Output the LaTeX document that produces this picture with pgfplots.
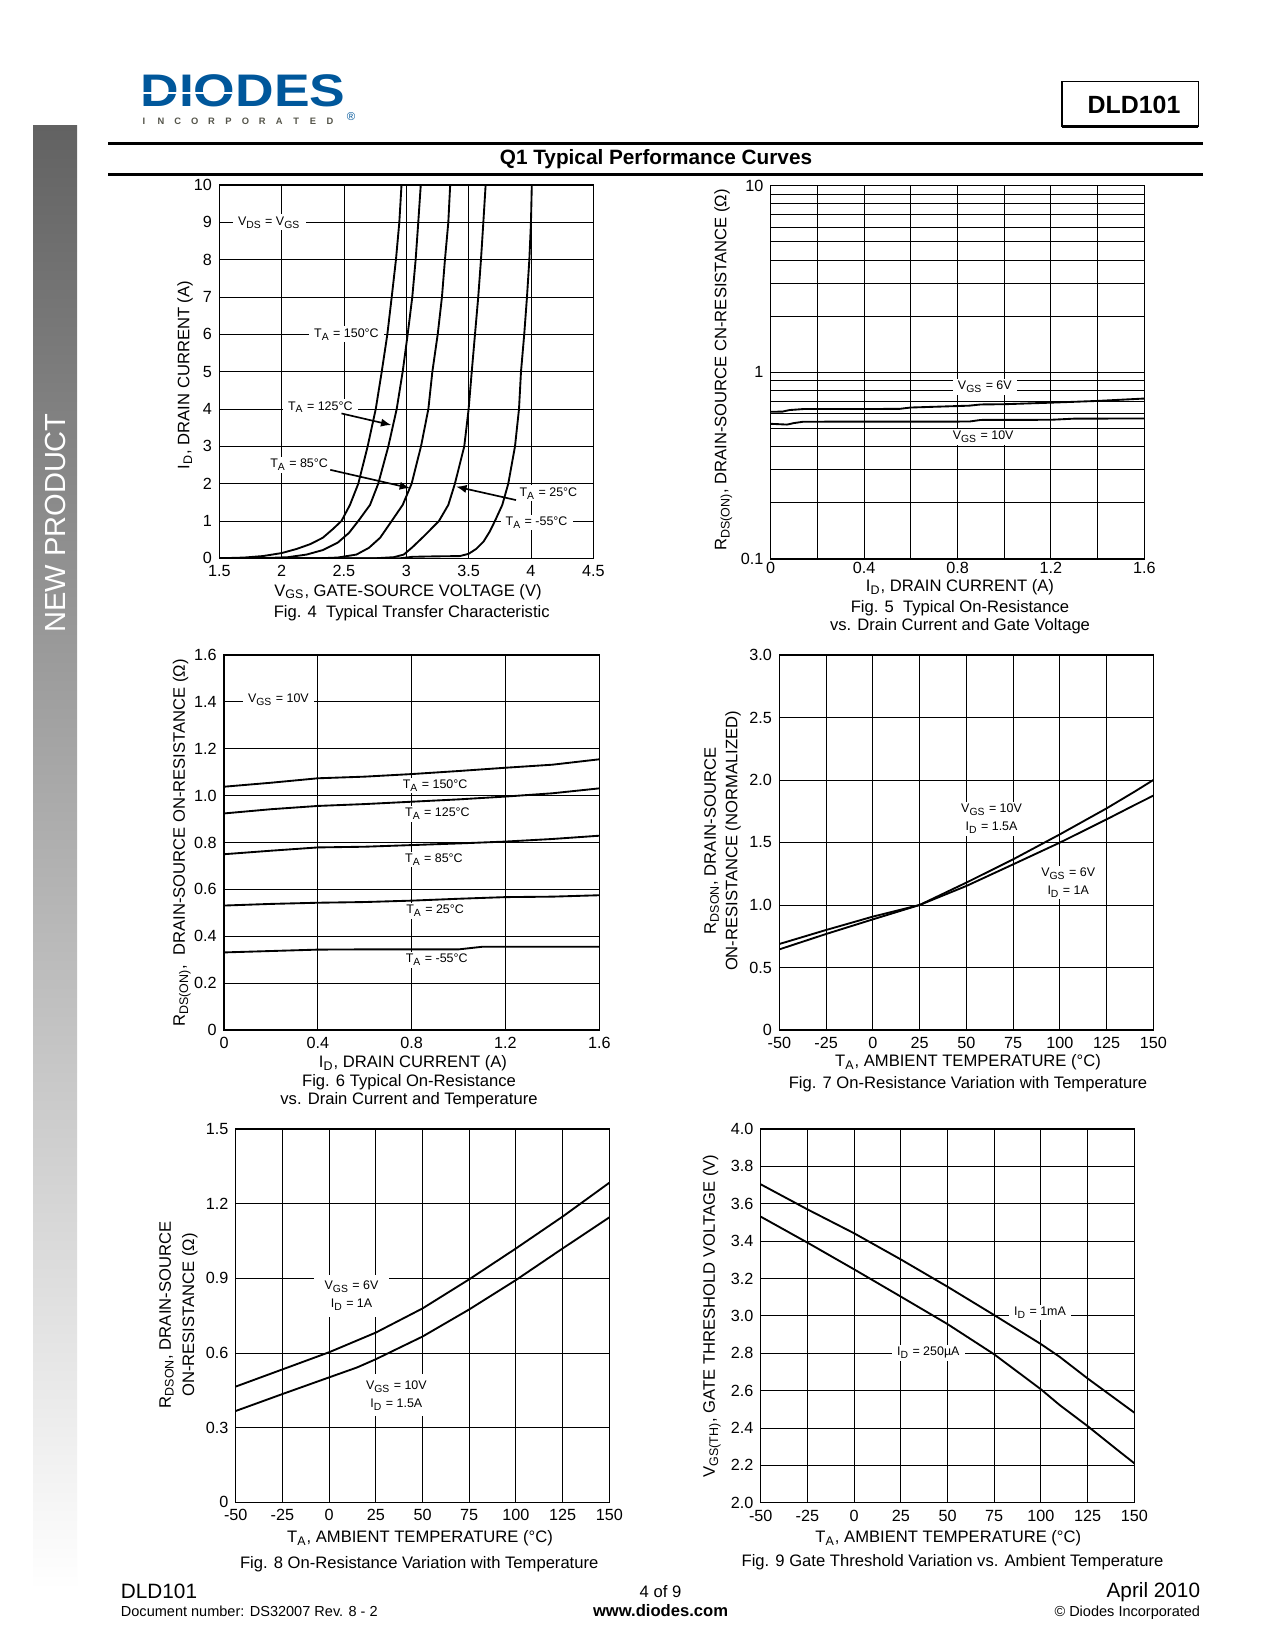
\documentclass[border=0pt]{standalone}
\usepackage{fontspec}
\setmainfont{Liberation Sans}
\usepackage{pgfplots}
\pgfplotsset{compat=1.18}
\usetikzlibrary{arrows.meta}

% one pixel of the 1275x1650 page
\newlength\pxl
\setlength\pxl{0.4818pt}

\definecolor{diodesblue}{RGB}{0,87,155}
\definecolor{logogray}{RGB}{85,85,75}
\definecolor{bargray}{RGB}{98,98,98}
\definecolor{barmid}{RGB}{196,196,196}

\newcommand\axl{\fontsize{8}{9.6}\selectfont}
\newcommand\tkl{\fontsize{7.8}{9}\selectfont}
\newcommand\ann{\fontsize{6}{8.8}\selectfont}

\pgfplotsset{
  dsaxis/.style={
    scale only axis, anchor=north west,
    axis line style={line width=0.6pt},
    grid=major,
    major grid style={black, line width=0.45pt},
    minor grid style={black, line width=0.45pt},
    major tick length=0pt, minor tick length=0pt,
    tick label style={font=\tkl},
    cycle list={black,line width=0.9pt,no markers,line join=round\\},
  },
}
\tikzset{
  lab/.style={font=\ann, fill=white, inner xsep=2.5pt, inner ysep=1pt, align=center},
}

\begin{document}
\begin{tikzpicture}

\begin{scope}[x=\pxl,y=-\pxl]
  \fill[white] (0,0) rectangle (1275,1650);

  % side bar
  \shade[top color=bargray, middle color=barmid, bottom color=white] (33,126) rectangle (77,1590);
  \node[rotate=90, text=white, font=\fontsize{14}{16}\selectfont] at (55,523) {NEW PRODUCT};

  % logo
  \node[anchor=base west, inner sep=0, text=diodesblue, xscale=1.17,
        font=\fontsize{22}{22}\bfseries] at (140,106.7) {DIODES};
  \draw[white, line width=1.2pt] (140,93) -- (232,93);
  \foreach \l [count=\i from 0] in {I,N,C,O,R,P,O,R,A,T,E,D}
    \node[anchor=base, inner sep=0, text=logogray, font=\fontsize{4.5}{5}\bfseries] at ({144+16.9*\i},125) {\l};
  \node[inner sep=0, text=diodesblue, font=\fontsize{5.5}{6}\selectfont] at (351,117) {®};

  % part box
  \draw[line width=0.5pt] (1062,81.7) rectangle (1198,126.7);
  \draw[line width=1.6pt] (1062,126.7) -- (1198,126.7);
  \node[font=\fontsize{12}{14}\bfseries] at (1134,104.5) {DLD101};

  % header rules and title
  \draw[line width=1.3pt] (108,143.3) -- (1203,143.3);
  \draw[line width=1.3pt] (108,174.3) -- (1203,174.3);
  \node[anchor=base, font=\fontsize{10}{12}\bfseries] at (656,165) {Q1 Typical Performance Curves};

  % Fig 4 texts
  \node[rotate=90, font=\axl] at (185,375) {I\textsubscript{D}, DRAIN CURRENT (A)};
  \node[anchor=base, font=\axl] at (408,596) {V\textsubscript{GS}, GATE-SOURCE VOLTAGE (V)};
  \node[anchor=base, font=\axl] at (411.7,617.3) {Fig. 4~\ Typical Transfer Characteristic};

  % Fig 5 texts
  \node[rotate=90, font=\axl] at (723.3,370) {R\textsubscript{DS(ON)}, DRAIN-SOURCE CN-RESISTANCE (Ω)};
  \node[anchor=base, font=\axl] at (960,591.5) {I\textsubscript{D}, DRAIN CURRENT (A)};
  \node[anchor=base, font=\axl] at (960,612) {Fig. 5~\ Typical On-Resistance};
  \node[anchor=base, font=\axl] at (960,630) {vs. Drain Current and Gate Voltage};

  % Fig 6 texts
  \node[rotate=90, font=\axl] at (181.7,843) {R\textsubscript{DS(ON)},\ \ DRAIN-SOURCE ON-RESISTANCE (Ω)};
  \node[anchor=base, font=\axl] at (413,1067.3) {I\textsubscript{D}, DRAIN CURRENT (A)};
  \node[anchor=base, font=\axl] at (409,1086.7) {Fig. 6 Typical On-Resistance};
  \node[anchor=base, font=\axl] at (409,1104) {vs. Drain Current and Temperature};

  % Fig 7 texts
  \node[rotate=90, align=center, font=\fontsize{8}{10.4}\selectfont] at (722.5,841)
    {R\textsubscript{DSON}, DRAIN-SOURCE\\ON-RESISTANCE (NORMALIZED)};
  \node[anchor=base, font=\axl] at (968,1066.7) {T\textsubscript{A}, AMBIENT TEMPERATURE (°C)};
  \node[anchor=base, font=\axl] at (968,1088.3) {Fig. 7 On-Resistance Variation with Temperature};

  % Fig 8 texts
  \node[rotate=90, align=center, font=\fontsize{8}{11.2}\selectfont] at (178.3,1315)
    {R\textsubscript{DSON}, DRAIN-SOURCE\\ON-RESISTANCE (Ω)};
  \node[anchor=base, font=\axl] at (420,1542.7) {T\textsubscript{A}, AMBIENT TEMPERATURE (°C)};
  \node[anchor=base, font=\axl] at (419.2,1568.3) {Fig. 8 On-Resistance Variation with Temperature};

  % Fig 9 texts
  \node[rotate=90, font=\axl] at (711.7,1316) {V\textsubscript{GS(TH)}, GATE THRESHOLD VOLTAGE (V)};
  \node[anchor=base, font=\axl] at (948.3,1542.7) {T\textsubscript{A}, AMBIENT TEMPERATURE (°C)};
  \node[anchor=base, font=\axl] at (952.5,1566.7) {Fig. 9 Gate Threshold Variation vs. Ambient Temperature};

  % footer
  \node[anchor=base west, inner sep=0, font=\fontsize{10}{12}\selectfont] at (120.5,1598) {DLD101};
  \node[anchor=base west, inner sep=0, font=\fontsize{7}{8}\selectfont] at (120.5,1616) {Document number: DS32007 Rev. 8 - 2};
  \node[anchor=base, inner sep=0, font=\fontsize{8}{9}\selectfont] at (660.5,1597) {4 of 9};
  \node[anchor=base, inner sep=0, font=\fontsize{8}{9}\bfseries] at (660.5,1616.7) {www.diodes.com};
  \node[anchor=base east, inner sep=0, font=\fontsize{10}{12}\selectfont] at (1200.5,1597) {April 2010};
  \node[anchor=base east, inner sep=0, font=\fontsize{7}{8}\selectfont] at (1200.5,1616) {© Diodes Incorporated};
\end{scope}

% ---------------- Fig 4 ----------------
\begin{axis}[dsaxis, at={(219.3\pxl,-185\pxl)}, width=374\pxl, height=373.3\pxl,
  xmin=1.5, xmax=4.5, ymin=0, ymax=10,
  xtick={1.5,2,2.5,3,3.5,4,4.5}, xticklabels={1.5,2,2.5,3,3.5,4,4.5},
  ytick={0,1,2,3,4,5,6,7,8,9,10}, yticklabels={0,1,2,3,4,5,6,7,8,9,10}]
\addplot coordinates {(1.5,0) (1.7,0.02) (1.85,0.06) (2.0,0.14) (2.12,0.25) (2.23,0.38) (2.33,0.55) (2.41,0.78) (2.48,1.0) (2.548,1.43) (2.615,2) (2.69,3) (2.755,4) (2.803,5) (2.848,6) (2.883,7) (2.917,8) (2.944,9) (2.965,10.2)};
\addplot coordinates {(1.5,0) (1.9,0.01) (2.05,0.03) (2.2,0.1) (2.33,0.22) (2.45,0.42) (2.54,0.68) (2.615,1.0) (2.709,1.43) (2.775,2) (2.856,3) (2.923,4) (2.971,5) (3.011,6) (3.048,7) (3.075,8) (3.096,9) (3.12,10.2)};
\addplot coordinates {(1.5,0) (2.3,0) (2.45,0.02) (2.6,0.1) (2.7,0.28) (2.79,0.55) (2.883,1.0) (2.971,1.43) (3.043,2) (3.118,3) (3.177,4) (3.209,5) (3.252,6) (3.286,7) (3.31,8) (3.337,9) (3.355,10.2)};
\addplot coordinates {(1.5,0) (2.75,0) (2.9,0.03) (2.98,0.1) (3.05,0.3) (3.15,0.62) (3.262,1.0) (3.337,1.43) (3.39,2) (3.465,3) (3.5,4) (3.525,5) (3.551,6) (3.577,7) (3.599,8) (3.618,9) (3.64,10.2)};
\addplot coordinates {(1.5,0) (2.95,0) (3.05,0.04) (3.2,0.05) (3.43,0.06) (3.5,0.12) (3.56,0.25) (3.62,0.45) (3.67,0.72) (3.711,1.0) (3.77,1.43) (3.818,2) (3.872,3) (3.904,4) (3.92,5) (3.946,6) (3.968,7) (3.987,8) (4.0,9) (4.008,10.2)};
\node[lab] at (axis cs:1.9,9) {V\textsubscript{DS} = V\textsubscript{GS}};
\node[lab] at (axis cs:2.52,6) {T\textsubscript{A} = 150°C};
\node[lab] at (axis cs:2.31,4.05) {T\textsubscript{A} = 125°C};
\node[lab] at (axis cs:2.14,2.5) {T\textsubscript{A} = 85°C};
\node[lab] at (axis cs:4.14,1.74) {T\textsubscript{A} = 25°C};
\node[lab] at (axis cs:4.045,0.96) {T\textsubscript{A} = -55°C};
\draw[-{Latex[length=5pt,width=4pt]}, line width=0.8pt] (axis cs:2.48,3.88) -- (axis cs:2.88,3.57);
\draw[-{Latex[length=5pt,width=4pt]}, line width=0.8pt] (axis cs:2.39,2.37) -- (axis cs:3.03,1.88);
\draw[-{Latex[length=5pt,width=4pt]}, line width=0.8pt] (axis cs:3.88,1.56) -- (axis cs:3.40,1.92);
\end{axis}

% ---------------- Fig 5 ----------------
\begin{axis}[dsaxis, at={(770.7\pxl,-185.7\pxl)}, width=373.6\pxl, height=373.3\pxl,
  xmin=0, xmax=1.6, ymode=log, ymin=0.1, ymax=10, grid=both,
  xticklabel style={yshift=2pt},
  xtick={0,0.4,0.8,1.2,1.6}, xticklabels={0,0.4,0.8,1.2,1.6},
  minor xtick={0.2,0.6,1.0,1.4},
  ytick={0.1,1,10}, yticklabels={0.1,1,10},
  minor ytick={0.2,0.3,0.4,0.5,0.6,0.7,0.8,0.9,2,3,4,5,6,7,8,9}]
\addplot coordinates {(0,0.615) (0.05,0.616) (0.08,0.628) (0.14,0.636) (0.55,0.637) (0.6,0.648) (0.85,0.663) (0.9,0.673) (1.0,0.675) (1.2,0.688) (1.4,0.703) (1.6,0.724)};
\addplot coordinates {(0,0.53) (0.07,0.525) (0.1,0.535) (0.14,0.544) (0.85,0.545) (0.9,0.556) (1.2,0.557) (1.3,0.565) (1.6,0.566)};
\node[lab] at (axis cs:0.917,0.838) {V\textsubscript{GS} = 6V};
\node[lab] at (axis cs:0.91,0.452) {V\textsubscript{GS} = 10V};
\end{axis}

% ---------------- Fig 6 ----------------
\begin{axis}[dsaxis, at={(224\pxl,-655\pxl)}, width=375.3\pxl, height=375\pxl,
  xmin=0, xmax=1.6, ymin=0, ymax=1.6,
  xtick={0,0.4,0.8,1.2,1.6}, xticklabels={0,0.4,0.8,1.2,1.6},
  ytick={0,0.2,0.4,0.6,0.8,1.0,1.2,1.4,1.6}, yticklabels={0,0.2,0.4,0.6,0.8,1.0,1.2,1.4,1.6}]
\addplot coordinates {(0,1.038) (0.2,1.055) (0.4,1.074) (0.6,1.081) (0.8,1.092) (1.0,1.105) (1.2,1.119) (1.4,1.132) (1.6,1.155)};
\addplot coordinates {(0,0.924) (0.2,0.942) (0.4,0.956) (0.6,0.964) (0.8,0.974) (1.0,0.984) (1.2,0.996) (1.4,1.01) (1.6,1.031)};
\addplot coordinates {(0,0.75) (0.2,0.765) (0.4,0.779) (0.6,0.782) (0.8,0.789) (1.0,0.796) (1.2,0.804) (1.4,0.815) (1.6,0.829)};
\addplot coordinates {(0,0.531) (0.2,0.538) (0.4,0.543) (0.6,0.546) (0.8,0.552) (1.0,0.56) (1.2,0.567) (1.4,0.569) (1.6,0.575)};
\addplot coordinates {(0,0.331) (0.2,0.337) (0.4,0.343) (0.6,0.344) (1.0,0.344) (1.1,0.355) (1.6,0.355)};
\node[lab] at (axis cs:0.232,1.408) {V\textsubscript{GS} = 10V};
\node[lab] at (axis cs:0.9,1.043) {T\textsubscript{A} = 150°C};
\node[lab] at (axis cs:0.91,0.922) {T\textsubscript{A} = 125°C};
\node[lab] at (axis cs:0.895,0.728) {T\textsubscript{A} = 85°C};
\node[lab] at (axis cs:0.9,0.509) {T\textsubscript{A} = 25°C};
\node[lab] at (axis cs:0.907,0.299) {T\textsubscript{A} = -55°C};
\end{axis}

% ---------------- Fig 7 ----------------
\begin{axis}[dsaxis, at={(779.3\pxl,-655\pxl)}, width=374\pxl, height=375\pxl,
  xmin=-50, xmax=150, ymin=0, ymax=3,
  xtick={-50,-25,0,25,50,75,100,125,150}, xticklabels={-50,-25,0,25,50,75,100,125,150},
  ytick={0,0.5,1,1.5,2,2.5,3}, yticklabels={0,0.5,1.0,1.5,2.0,2.5,3.0}]
\addplot coordinates {(-50,0.645) (-25,0.768) (0,0.885) (25,1.0) (50,1.179) (75,1.365) (100,1.565) (125,1.773) (140,1.907) (150,2.0)};
\addplot coordinates {(-50,0.688) (-25,0.8) (0,0.907) (25,1.0) (50,1.152) (75,1.325) (100,1.499) (125,1.685) (140,1.8) (150,1.875)};
\node[lab] at (axis cs:63.5,1.69) {V\textsubscript{GS} = 10V\\I\textsubscript{D} = 1.5A};
\node[lab] at (axis cs:104.5,1.18) {V\textsubscript{GS} = 6V\\I\textsubscript{D} = 1A};
\end{axis}

% ---------------- Fig 8 ----------------
\begin{axis}[dsaxis, at={(235.7\pxl,-1129\pxl)}, width=373.6\pxl, height=373.3\pxl,
  xmin=-50, xmax=150, ymin=0, ymax=1.5,
  xtick={-50,-25,0,25,50,75,100,125,150}, xticklabels={-50,-25,0,25,50,75,100,125,150},
  ytick={0,0.3,0.6,0.9,1.2,1.5}, yticklabels={0,0.3,0.6,0.9,1.2,1.5}]
\addplot coordinates {(-50,0.465) (-25,0.534) (0,0.603) (25,0.682) (50,0.779) (75,0.896) (100,1.02) (125,1.148) (150,1.284)};
\addplot coordinates {(-50,0.367) (-25,0.435) (0,0.502) (15,0.542) (25,0.575) (50,0.666) (75,0.775) (100,0.893) (125,1.02) (150,1.145)};
\node[lab, inner xsep=5pt, inner ysep=3pt] at (axis cs:12,0.83) {V\textsubscript{GS} = 6V\\I\textsubscript{D} = 1A};
\node[lab, inner xsep=5pt, inner ysep=3pt] at (axis cs:36,0.43) {V\textsubscript{GS} = 10V\\I\textsubscript{D} = 1.5A};
\end{axis}

% ---------------- Fig 9 ----------------
\begin{axis}[dsaxis, at={(760.7\pxl,-1129\pxl)}, width=373.6\pxl, height=373.7\pxl,
  xmin=-50, xmax=150, ymin=2, ymax=4,
  xtick={-50,-25,0,25,50,75,100,125,150}, xticklabels={-50,-25,0,25,50,75,100,125,150},
  ytick={2,2.2,2.4,2.6,2.8,3,3.2,3.4,3.6,3.8,4}, yticklabels={2.0,2.2,2.4,2.6,2.8,3.0,3.2,3.4,3.6,3.8,4.0}]
\addplot coordinates {(-50,3.704) (-25,3.57) (0,3.442) (25,3.302) (50,3.156) (75,3.004) (100,2.849) (110,2.781) (125,2.665) (150,2.482)};
\addplot coordinates {(-50,3.531) (-25,3.392) (0,3.249) (25,3.103) (50,2.956) (75,2.794) (100,2.607) (110,2.523) (125,2.41) (140,2.29) (150,2.211)};
\node[lab] at (axis cs:99.5,3.017) {I\textsubscript{D} = 1mA};
\node[lab] at (axis cs:39.7,2.803) {I\textsubscript{D} = 250µA};
\end{axis}

\end{tikzpicture}
\end{document}
